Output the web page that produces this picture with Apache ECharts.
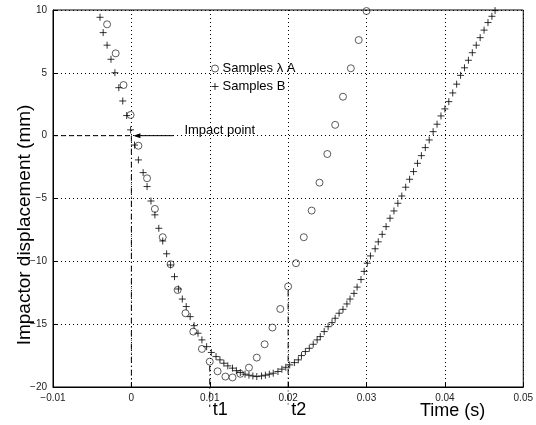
<!DOCTYPE html>
<html>
<head>
<meta charset="UTF-8">
<title>Impactor displacement</title>
<script src="https://cdn.jsdelivr.net/npm/echarts@6/dist/echarts.min.js"></script>
<style>
  html, body { margin: 0; padding: 0; background: #fff; }
  #main { width: 536px; height: 425px; }
</style>
</head>
<body>
<div id="main"></div>
<script type="text/javascript">
// samples A (circles)
var aTime = [-0.0031, -0.0020, -0.0010, -0.0001, 0.0009, 0.0020, 0.0030, 0.0040, 0.0050, 0.0059,
  0.0069, 0.0079, 0.0090, 0.0100, 0.0110, 0.0120, 0.0129, 0.0139, 0.0150, 0.0160,
  0.0170, 0.0180, 0.0190, 0.0200, 0.0210, 0.0220, 0.0230, 0.0240, 0.0250, 0.0260,
  0.0270, 0.0280, 0.0290, 0.0300];
var aDisp = [8.86, 6.55, 4.03, 1.65, -0.8, -3.39, -5.83, -8.08, -10.23, -12.28,
  -14.13, -15.59, -16.97, -17.98, -18.75, -19.17, -19.24, -18.95, -18.46, -17.66,
  -16.6, -15.27, -13.79, -12.0, -10.15, -8.08, -5.96, -3.74, -1.46, 0.86,
  3.1, 5.36, 7.61, 9.92];

// samples B (plus signs)
var bTime = [-0.0040, -0.0036, -0.0031, -0.0026, -0.0021, -0.0016, -0.0011, -0.0006, -0.0001, 0.0004,
  0.0009, 0.0015, 0.0020, 0.0025, 0.0030, 0.0035, 0.0040, 0.0045, 0.0050, 0.0055,
  0.0060, 0.0065, 0.0070, 0.0075, 0.0080, 0.0085, 0.0090, 0.0096, 0.0102, 0.0108,
  0.0113, 0.0118, 0.0123, 0.0129, 0.0134, 0.0139, 0.0145, 0.0150, 0.0155, 0.0160,
  0.0166, 0.0171, 0.0176, 0.0181, 0.0187, 0.0192, 0.0197, 0.0202, 0.0208, 0.0213,
  0.0217, 0.0222, 0.0227, 0.0232, 0.0237, 0.0241, 0.0246, 0.0251, 0.0256, 0.0260,
  0.0265, 0.0270, 0.0275, 0.0279, 0.0284, 0.0288, 0.0293, 0.0297, 0.0301, 0.0305,
  0.0311, 0.0315, 0.0320, 0.0325, 0.0330, 0.0335, 0.0340, 0.0345, 0.0350, 0.0355,
  0.0360, 0.0365, 0.0370, 0.0375, 0.0380, 0.0385, 0.0390, 0.0395, 0.0400, 0.0405,
  0.0410, 0.0415, 0.0420, 0.0425, 0.0430, 0.0435, 0.0440, 0.0445, 0.0450, 0.0455,
  0.0460, 0.0464];
var bDisp = [9.42, 8.2, 7.2, 6.08, 5.01, 3.82, 2.76, 1.6, 0.46, -0.75,
  -1.93, -2.94, -4.05, -5.2, -6.3, -7.37, -8.38, -9.4, -10.29, -11.22,
  -12.2, -13.0, -13.6, -14.4, -15.12, -15.72, -16.25, -16.79, -17.25, -17.58,
  -17.84, -18.11, -18.32, -18.5, -18.7, -18.85, -18.98, -19.06, -19.12, -19.17,
  -19.12, -19.06, -18.98, -18.9, -18.77, -18.58, -18.43, -18.24, -18.06, -17.84,
  -17.5, -17.18, -16.92, -16.6, -16.25, -15.99, -15.59, -15.2, -14.88, -14.53,
  -14.13, -13.82, -13.39, -13.0, -12.55, -12.05, -11.45, -10.8, -10.15, -9.57,
  -9.0, -8.45, -7.85, -7.24, -6.57, -5.99, -5.38, -4.8, -4.1, -3.47,
  -2.86, -2.2, -1.59, -0.95, -0.34, 0.32, 0.91, 1.57, 2.13, 2.71,
  3.4, 4.1, 4.8, 5.4, 6.0, 6.6, 7.2, 7.8, 8.4, 9.0,
  9.5, 9.95];

// annotations: impact time, t1, t2
var impactPoint = [0, 0];
var markTimes = [0.01, 0.02];
var markDisp = [-17.98, -12.0];
var markNames = ['t1', 't2'];

function zip(xs, ys) {
  return xs.map(function (x, i) { return [x, ys[i]]; });
}
function minus(s) { return String(s).replace('-', '\u2212'); }

var FONT = '"Liberation Sans", Arial, sans-serif';
var PLUS = 'path://M0,5L10,5M5,0L5,10';
var chart = echarts.init(document.getElementById('main'), null, { renderer: 'canvas' });

var option = {
  animation: false,
  backgroundColor: '#fff',
  textStyle: { fontFamily: FONT },
  grid: { left: 53, right: 5, top: 10, bottom: 38, show: true, borderColor: '#000', borderWidth: 1 },
  legend: {
    orient: 'vertical',
    left: 206,
    top: 57,
    itemWidth: 7,
    itemHeight: 7,
    itemGap: 5,
    textStyle: { fontFamily: FONT, fontSize: 13, color: '#000', padding: [0, 0, 0, -1] },
    data: [
      { name: 'Samples \u03bb A', icon: 'circle', itemStyle: { color: 'rgba(0,0,0,0)', borderColor: '#333', borderWidth: 1 } },
      { name: 'Samples B', icon: PLUS, itemStyle: { color: 'rgba(0,0,0,0)', borderColor: '#000', borderWidth: 1 } }
    ]
  },
  xAxis: {
    type: 'value',
    min: -0.01,
    max: 0.05,
    interval: 0.01,
    axisLine: { onZero: false, lineStyle: { color: '#000' } },
    axisTick: { inside: true, length: 4, lineStyle: { color: '#000' } },
    axisLabel: {
      fontSize: 10, color: '#222', margin: 6,
      formatter: function (v) { return minus(Math.round(v * 100) / 100); }
    },
    splitLine: { lineStyle: { color: '#000', type: [1, 3] } }
  },
  yAxis: {
    type: 'value',
    min: -20,
    max: 10,
    interval: 5,
    axisLine: { onZero: false, lineStyle: { color: '#000' } },
    axisTick: { inside: true, length: 4, lineStyle: { color: '#000' } },
    axisLabel: {
      fontSize: 10, color: '#222', margin: 6,
      formatter: function (v) { return minus(v); }
    },
    splitLine: { lineStyle: { color: '#000', type: [1, 3] } }
  },
  series: [
    {
      name: 'Samples \u03bb A',
      type: 'scatter',
      symbol: 'circle',
      symbolSize: 7,
      itemStyle: { color: 'rgba(0,0,0,0)', borderColor: '#333', borderWidth: 1 },
      data: zip(aTime, aDisp),
      z: 3
    },
    {
      name: 'Samples B',
      type: 'scatter',
      symbol: PLUS,
      symbolSize: 7,
      itemStyle: { color: 'rgba(0,0,0,0)', borderColor: '#000', borderWidth: 1 },
      data: zip(bTime, bDisp),
      z: 4
    }
  ]
};
chart.setOption(option);

// annotations placed through the chart's own coordinate system
function px(p) { return chart.convertToPixel({ gridIndex: 0 }, p); }
var gOrigin = px([-0.01, -20]);
var gImpact = px(impactPoint);
var bottomY = gOrigin[1];
var dashDot = [6, 3, 1, 3];
var graphics = [];

// horizontal dashed line to the impact point
graphics.push({
  type: 'line', z: 10, silent: true,
  shape: { x1: gOrigin[0], y1: gImpact[1], x2: gImpact[0] - 2, y2: gImpact[1] },
  style: { stroke: '#000', lineWidth: 1, lineDash: [5, 3] }
});
// vertical dash-dot at impact time
graphics.push({
  type: 'line', z: 10, silent: true,
  shape: { x1: gImpact[0], y1: gImpact[1], x2: gImpact[0], y2: bottomY },
  style: { stroke: '#000', lineWidth: 1, lineDash: dashDot }
});
// arrow pointing at the impact point
graphics.push({
  type: 'line', z: 10, silent: true,
  shape: { x1: gImpact[0] + 4, y1: gImpact[1], x2: gImpact[0] + 42, y2: gImpact[1] },
  style: { stroke: '#000', lineWidth: 1 }
});
graphics.push({
  type: 'polygon', z: 10, silent: true,
  shape: { points: [[gImpact[0] + 2, gImpact[1]], [gImpact[0] + 9, gImpact[1] - 2.5], [gImpact[0] + 9, gImpact[1] + 2.5]] },
  style: { fill: '#000' }
});
graphics.push({
  type: 'text', z: 10, silent: true,
  x: gImpact[0] + 53, y: gImpact[1] - 5,
  style: { text: 'Impact point', fontFamily: FONT, fontSize: 13, fill: '#000', verticalAlign: 'middle' }
});

// t1, t2 markers
markTimes.forEach(function (t, i) {
  var p = px([t, markDisp[i]]);
  graphics.push({
    type: 'line', z: 10, silent: true,
    shape: { x1: p[0], y1: p[1] + 4, x2: p[0], y2: bottomY + 20 },
    style: { stroke: '#000', lineWidth: 1, lineDash: dashDot }
  });
  graphics.push({
    type: 'text', z: 10, silent: true,
    x: p[0] + 3, y: bottomY + 23,
    style: { text: markNames[i], fontFamily: FONT, fontSize: 18, fill: '#000', verticalAlign: 'middle' }
  });
});

// axis titles
graphics.push({
  type: 'text', silent: true,
  x: 420, y: 411,
  style: { text: 'Time (s)', fontFamily: FONT, fontSize: 18, fill: '#000', verticalAlign: 'middle' }
});
graphics.push({
  type: 'text', silent: true,
  x: 25, y: 225, rotation: Math.PI / 2,
  style: { text: 'Impactor displacement (mm)', fontFamily: FONT, fontSize: 19, fill: '#000', align: 'center', verticalAlign: 'middle' }
});

chart.setOption({ graphic: graphics });
</script>
</body>
</html>
